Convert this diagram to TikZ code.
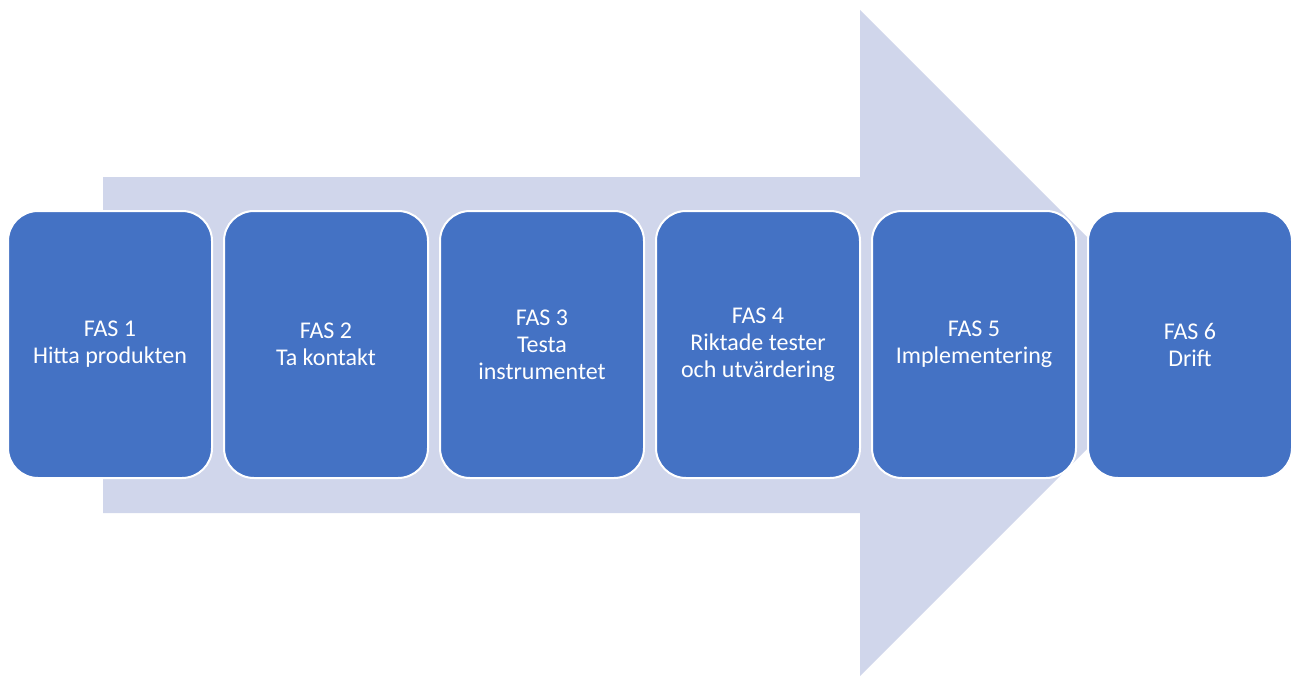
\documentclass[tikz,border=0pt]{standalone}
\usepackage{fontspec}
\setmainfont{Carlito}
\definecolor{boxblue}{HTML}{4472C4}
\definecolor{arrowfill}{HTML}{D0D6EB}
\begin{document}
\begin{tikzpicture}[x=1pt,y=-1pt,
  fasbox/.style={draw=white,line width=2pt,fill=boxblue,rounded corners=30pt,
    minimum width=204pt,minimum height=267pt,anchor=north west,inner sep=0pt,outer sep=0pt,
    text=white,align=center,font=\fontsize{24}{27}\selectfont}]
\useasboundingbox (0,0) rectangle (1298,677);
\fill[arrowfill] (103,177) -- (860,177) -- (860,10) -- (1193,343) -- (860,676) -- (860,513) -- (103,513) -- cycle;
\node[fasbox] (f1) at (8,211) {FAS 1\\Hitta produkten};
\node[fasbox] (f2) at (224,211) {FAS 2\\Ta kontakt};
\node[fasbox] (f3) at (440,211) {FAS 3\\Testa\\instrumentet};
\node[fasbox] (f4) at (656,211) {FAS 4\\Riktade tester\\och utvärdering};
\node[fasbox] (f5) at (872,211) {FAS 5\\Implementering};
\node[fasbox] (f6) at (1088,211) {FAS 6\\Drift};
\end{tikzpicture}
\end{document}
